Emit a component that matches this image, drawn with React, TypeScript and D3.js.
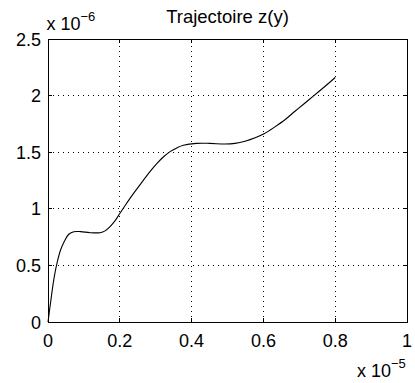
import React from "react";
import * as d3 from "d3";

// Trajectory samples: y (in units of 1e-5) and z (in units of 1e-6)
const yValues = [
  0, 0.0075, 0.0167, 0.026, 0.035, 0.045, 0.058, 0.072, 0.091, 0.117, 0.145,
  0.159, 0.173, 0.187, 0.2, 0.2145, 0.228, 0.256, 0.284, 0.303, 0.322, 0.34,
  0.36, 0.377, 0.414, 0.451, 0.493, 0.521, 0.549, 0.577, 0.603, 0.632, 0.66,
  0.688, 0.716, 0.739, 0.785, 0.8,
];
const zValues = [
  0, 0.18, 0.386, 0.533, 0.636, 0.709, 0.775, 0.798, 0.798, 0.789, 0.789,
  0.805, 0.843, 0.895, 0.958, 1.027, 1.09, 1.211, 1.328, 1.4, 1.46, 1.505,
  1.54, 1.561, 1.578, 1.578, 1.572, 1.578, 1.597, 1.627, 1.665, 1.724, 1.787,
  1.862, 1.935, 1.995, 2.118, 2.16,
];

const xTicks = [0, 0.2, 0.4, 0.6, 0.8, 1];
const yTicks = [0, 0.5, 1, 1.5, 2, 2.5];
const xTickLabels = ["0", "0.2", "0.4", "0.6", "0.8", "1"];
const yTickLabels = ["0", "0.5", "1", "1.5", "2", "2.5"];
const title = "Trajectoire z(y)";
const xExponent = "−5";
const yExponent = "−6";

const W = 415;
const H = 383;
const plot = { left: 48, right: 407, top: 39, bottom: 322 };
const font = "'Liberation Sans', Arial, Helvetica, sans-serif";

export default function App() {
  const x = d3.scaleLinear().domain([0, 1]).range([plot.left, plot.right]);
  const y = d3.scaleLinear().domain([0, 2.5]).range([plot.bottom, plot.top]);

  const points: [number, number][] = yValues.map((v, i) => [v, zValues[i]]);
  const line = d3
    .line<[number, number]>()
    .x((d) => x(d[0]))
    .y((d) => y(d[1]))
    .curve(d3.curveCatmullRom.alpha(0.5));

  const tickLen = 4;

  return (
    <svg
      width={W}
      height={H}
      style={{ position: "absolute", left: 0, top: 0, background: "#fff" }}
      fontFamily={font}
    >
      <rect x={0} y={0} width={W} height={H} fill="#fff" />

      {/* dotted grid */}
      <g stroke="#000" strokeWidth={1} strokeDasharray="1 4" shapeRendering="crispEdges">
        {xTicks.slice(1, -1).map((t) => (
          <line key={"gx" + t} x1={x(t)} x2={x(t)} y1={plot.bottom} y2={plot.top} />
        ))}
        {yTicks.slice(1, -1).map((t) => (
          <line key={"gy" + t} x1={plot.left} x2={plot.right} y1={y(t)} y2={y(t)} />
        ))}
      </g>

      {/* inward ticks on all four sides */}
      <g stroke="#000" strokeWidth={1} shapeRendering="crispEdges">
        {xTicks.map((t) => (
          <g key={"tx" + t}>
            <line x1={x(t)} x2={x(t)} y1={plot.bottom} y2={plot.bottom - tickLen} />
            <line x1={x(t)} x2={x(t)} y1={plot.top} y2={plot.top + tickLen} />
          </g>
        ))}
        {yTicks.map((t) => (
          <g key={"ty" + t}>
            <line x1={plot.left} x2={plot.left + tickLen} y1={y(t)} y2={y(t)} />
            <line x1={plot.right} x2={plot.right - tickLen} y1={y(t)} y2={y(t)} />
          </g>
        ))}
      </g>

      {/* curve */}
      <path d={line(points) ?? ""} fill="none" stroke="#000" strokeWidth={1.1} />

      {/* axes box */}
      <rect
        x={plot.left}
        y={plot.top}
        width={plot.right - plot.left}
        height={plot.bottom - plot.top}
        fill="none"
        stroke="#000"
        strokeWidth={1}
        shapeRendering="crispEdges"
      />

      {/* tick labels */}
      <g fontSize={18} fill="#000">
        {xTicks.map((t, i) => (
          <text key={"lx" + t} x={x(t)} y={346.5} textAnchor="middle">
            {xTickLabels[i]}
          </text>
        ))}
        {yTicks.map((t, i) => (
          <text key={"ly" + t} x={41} y={y(t) + 6.5} textAnchor="end">
            {yTickLabels[i]}
          </text>
        ))}
      </g>

      {/* exponent multipliers */}
      <text x={46.5} y={30} fontSize={18} fill="#000">
        x 10
        <tspan fontSize={13} dy={-9}>
          {yExponent}
        </tspan>
      </text>
      <text x={357} y={376.5} fontSize={18} fill="#000">
        x 10
        <tspan fontSize={13} dy={-9}>
          {xExponent}
        </tspan>
      </text>

      {/* title */}
      <text x={(plot.left + plot.right) / 2} y={22.5} fontSize={18.5} textAnchor="middle" fill="#000">
        {title}
      </text>
    </svg>
  );
}
